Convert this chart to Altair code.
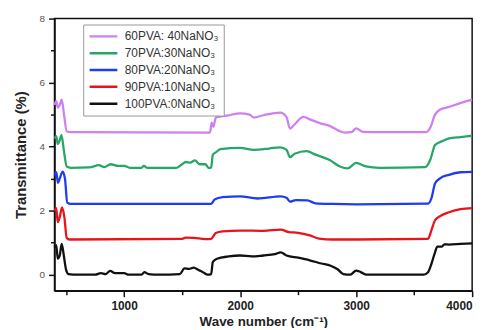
import altair as alt
import pandas as pd

labels = ["60PVA: 40NaNO\u2083", "70PVA:30NaNO\u2083", "80PVA:20NaNO\u2083",
          "90PVA:10NaNO\u2083", "100PVA:0NaNO\u2083"]
colors = ["#d07ff0", "#27a66a", "#1f3cf5", "#e8131b", "#111111"]

wn_100 = [400, 415, 428, 445, 462, 480, 500, 520, 600, 750, 800, 840, 880, 920, 1000, 1040, 1150,
          1175, 1210, 1300, 1480, 1520, 1560, 1600, 1640, 1680, 1720, 1750, 1765, 1800, 1900, 2000,
          2100, 2200, 2300, 2350, 2400, 2500, 2600, 2700, 2780, 2840, 2890, 2950, 3000, 3040, 3090,
          3200, 3400, 3580, 3620, 3650, 3680, 3700, 3740, 3760, 3800, 3900, 4000]
t_100 = [0.85, 0.92, 0.5, 0.6, 0.96, 0.6, 0.15, 0.02, 0.0, 0.0, 0.05, 0.02, 0.12, 0.05, 0.05, 0.0, 0.0,
         0.08, 0.02, 0.0, 0.02, 0.2, 0.18, 0.22, 0.15, 0.08, 0.0, 0.02, 0.4, 0.5, 0.57, 0.6,
         0.57, 0.6, 0.64, 0.7, 0.6, 0.53, 0.45, 0.35, 0.28, 0.17, 0.02, 0.0, 0.13, 0.08, 0.0,
         0.0, 0.0, 0.0, 0.08, 0.35, 0.7, 0.88, 0.88, 0.95, 0.94, 0.96, 0.98]

wn_90 = [400, 415, 428, 445, 465, 485, 505, 530, 1500, 1530, 1600, 1700, 1750, 1790, 1850, 2000, 2200,
         2350, 2420, 2500, 2600, 2680, 2800, 3000, 3620, 3650, 3680, 3720, 3800, 3900, 4000]
t_90 = [2.0, 2.08, 1.64, 1.8, 2.1, 1.8, 1.15, 1.1, 1.12, 1.16, 1.15, 1.11, 1.12, 1.3, 1.35, 1.38, 1.37,
        1.41, 1.33, 1.31, 1.23, 1.13, 1.1, 1.1, 1.12, 1.4, 1.7, 1.82, 1.95, 2.05, 2.08]

wn_80 = [400, 415, 430, 445, 470, 490, 510, 540, 1750, 1780, 1850, 2000, 2150, 2350, 2400, 2430, 2480,
         2580, 2650, 2800, 3000, 3620, 3650, 3680, 3720, 3800, 3900, 4000]
t_80 = [3.1, 3.2, 2.87, 3.0, 3.22, 3.0, 2.25, 2.21, 2.21, 2.35, 2.42, 2.45, 2.38, 2.45, 2.4, 2.28, 2.33,
        2.32, 2.23, 2.21, 2.2, 2.22, 2.4, 2.85, 3.0, 3.12, 3.2, 3.21]

wn_70 = [400, 415, 428, 445, 460, 480, 505, 540, 700, 783, 830, 883, 950, 1000, 1050, 1150, 1170, 1200,
         1450, 1500, 1530, 1570, 1610, 1650, 1700, 1730, 1750, 1765, 1790, 1830, 2000, 2118, 2250,
         2346, 2400, 2430, 2470, 2573, 2650, 2772, 2860, 2928, 3000, 3085, 3200, 3596, 3640, 3680,
         3720, 3760, 3800, 3900, 4000]
t_70 = [4.25, 4.33, 4.08, 4.2, 4.36, 3.9, 3.38, 3.34, 3.35, 3.42, 3.36, 3.45, 3.4, 3.4, 3.34, 3.34, 3.4, 3.34,
        3.34, 3.45, 3.52, 3.5, 3.57, 3.45, 3.45, 3.33, 3.35, 3.75, 3.82, 3.92, 3.96, 3.9, 3.94,
        3.98, 3.9, 3.67, 3.78, 3.86, 3.75, 3.58, 3.38, 3.32, 3.49, 3.38, 3.34, 3.36, 3.6, 4.05,
        4.14, 4.2, 4.26, 4.3, 4.34]

wn_60 = [400, 415, 428, 445, 462, 482, 505, 540, 1740, 1755, 1770, 1790, 1900, 2000, 2080, 2118, 2200,
         2346, 2400, 2430, 2470, 2545, 2600, 2700, 2772, 2850, 2900, 2960, 3000, 3060, 3200, 3600,
         3640, 3680, 3720, 3780, 3850, 3950, 4000]
t_60 = [5.3, 5.42, 5.22, 5.3, 5.47, 5.0, 4.48, 4.45, 4.44, 4.75, 4.62, 4.91, 4.98, 5.04, 5.0, 4.91, 4.98,
        5.06, 4.92, 4.56, 4.7, 4.93, 4.85, 4.72, 4.65, 4.5, 4.44, 4.45, 4.57, 4.46, 4.45, 4.45,
        4.6, 5.0, 5.15, 5.22, 5.3, 5.42, 5.47]

x_ticks = [500, 1000, 1500, 2000, 2500, 3000, 3500, 4000]
y_ticks = [0, 1, 2, 3, 4, 5, 6, 7, 8]

series = [(labels[0], wn_60, t_60), (labels[1], wn_70, t_70), (labels[2], wn_80, t_80),
          (labels[3], wn_90, t_90), (labels[4], wn_100, t_100)]
rows = []
for name, xs, ys in series:
    for i, (a, b) in enumerate(zip(xs, ys)):
        rows.append({"sample": name, "wn": a, "t": b, "i": i})
df = pd.DataFrame(rows)

FONT = "Liberation Sans"

chart = alt.Chart(df).mark_line(strokeWidth=2.3, interpolate="monotone").encode(
    x=alt.X("wn:Q", scale=alt.Scale(domain=[400, 4000], nice=False, zero=False),
            axis=alt.Axis(values=x_ticks, title="Wave number (cm\u207b\u00b9)",
                          labelExpr="datum.value % 1000 == 0 ? datum.label : ''",
                          format="d", grid=False,
                          tickSize={"condition": {"test": "datum.value % 1000 == 0", "value": 6}, "value": 4},
                          tickColor="#111",
                          domainColor="#111", domainWidth=1.5, tickWidth=1.5,
                          labelFont=FONT, labelFontSize=12, labelFontWeight="bold",
                          labelColor="#222", labelPadding=4,
                          titleFont=FONT, titleFontSize=13.5, titleFontWeight="bold",
                          titleColor="#222", titlePadding=3)),
    y=alt.Y("t:Q", scale=alt.Scale(domain=[-0.5, 8], nice=False, zero=False),
            axis=alt.Axis(values=y_ticks, title="Transmittance (%)",
                          labelExpr="datum.value % 2 == 0 ? datum.label : ''",
                          grid=False,
                          tickSize={"condition": {"test": "datum.value % 2 == 0", "value": 6}, "value": 4},
                          tickColor="#111",
                          domainColor="#111", domainWidth=1.5, tickWidth=1.5,
                          labelFont=FONT, labelFontSize=10, labelColor="#555",
                          labelPadding=4,
                          titleFont=FONT, titleFontSize=15, titleFontWeight="bold",
                          titleColor="#222", titlePadding=11)),
    color=alt.Color("sample:N", scale=alt.Scale(domain=labels, range=colors),
                    legend=alt.Legend(title=None, orient="none", legendX=29, legendY=6,
                                      symbolType="stroke", symbolStrokeWidth=2.5,
                                      symbolSize=784, clipHeight=14,
                                      labelFont=FONT, labelFontSize=12,
                                      labelColor="#333", rowPadding=3, labelOffset=6,
                                      strokeColor="#999", padding=5,
                                      fillColor="white")),
    order="i:Q",
).properties(
    width=422, height=275,
    autosize=alt.AutoSizeParams(type="none"),
    padding={"left": 47, "top": 9, "right": 14, "bottom": 36},
).configure_view(stroke="#111", strokeWidth=1.5)

chart.save("out.html", embed_options={"renderer": "svg", "actions": False})
